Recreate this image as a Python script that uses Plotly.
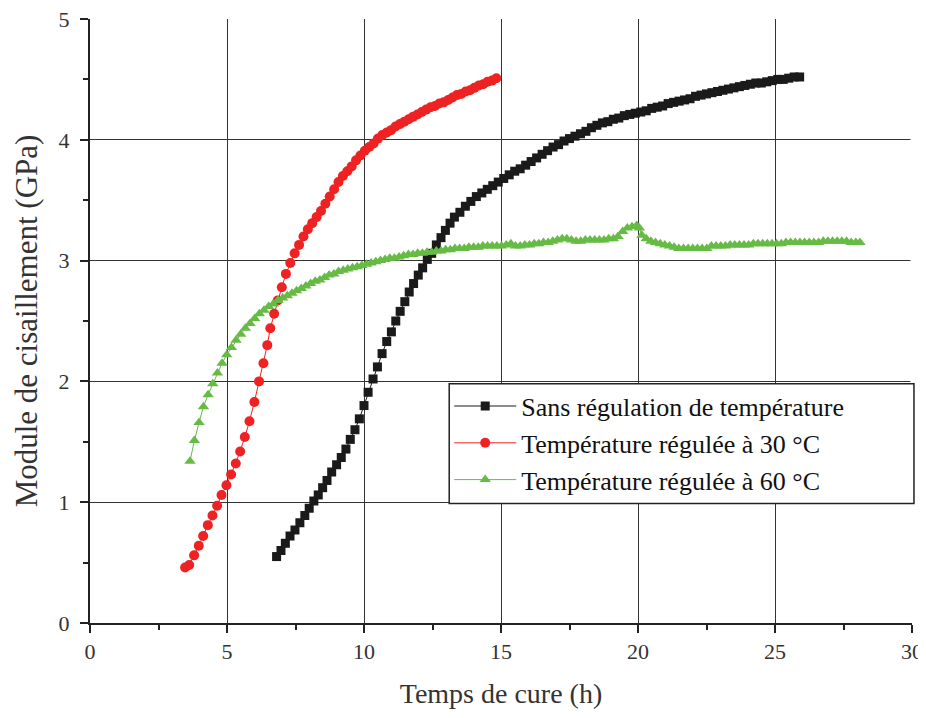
import plotly.graph_objects as go

# --- Data: Sans régulation de température (black squares)
x_sans = [6.81, 6.97, 7.13, 7.30, 7.48, 7.66, 7.84, 8.00, 8.17, 8.33, 8.49, 8.65, 8.82, 9.00, 9.17,
          9.34, 9.50, 9.67, 9.83, 10.00, 10.15, 10.33, 10.49, 10.66, 10.83, 11.00, 11.16, 11.32,
          11.49, 11.65, 11.81, 11.98, 12.14, 12.31, 12.47, 12.64, 12.81, 12.97, 13.14, 13.30,
          13.50, 13.70, 13.90, 14.10, 14.30, 14.50, 14.70, 14.90, 15.10, 15.30, 15.50, 15.70,
          15.90, 16.10, 16.30, 16.50, 16.70, 16.90, 17.10, 17.30, 17.50, 17.70, 17.90, 18.10,
          18.30, 18.50, 18.70, 18.90, 19.10, 19.30, 19.50, 19.70, 19.90, 20.10, 20.30, 20.50,
          20.70, 20.90, 21.10, 21.30, 21.50, 21.70, 21.90, 22.10, 22.30, 22.50, 22.70, 22.90,
          23.10, 23.30, 23.50, 23.70, 23.90, 24.10, 24.30, 24.50, 24.70, 24.90, 25.10, 25.30,
          25.50, 25.70, 25.90]
y_sans = [0.55, 0.60, 0.66, 0.72, 0.77, 0.83, 0.89, 0.95, 1.01, 1.06, 1.12, 1.18, 1.25, 1.31, 1.37,
          1.44, 1.52, 1.60, 1.69, 1.80, 1.91, 2.02, 2.12, 2.23, 2.33, 2.41, 2.50, 2.58,
          2.66, 2.74, 2.81, 2.88, 2.94, 3.01, 3.06, 3.13, 3.19, 3.25, 3.31, 3.36,
          3.40, 3.45, 3.49, 3.53, 3.56, 3.59, 3.62, 3.65, 3.68, 3.71, 3.74, 3.76,
          3.79, 3.82, 3.85, 3.88, 3.91, 3.94, 3.96, 3.99, 4.01, 4.03, 4.05, 4.07,
          4.10, 4.12, 4.14, 4.15, 4.17, 4.18, 4.20, 4.21, 4.22, 4.23, 4.24, 4.26,
          4.27, 4.28, 4.30, 4.31, 4.32, 4.33, 4.34, 4.36, 4.37, 4.38, 4.39, 4.40,
          4.41, 4.42, 4.43, 4.44, 4.45, 4.46, 4.47, 4.47, 4.48, 4.49, 4.50, 4.50,
          4.51, 4.52, 4.52]

# --- Data: Température régulée à 30 °C (red circles)
x_30 = [3.47, 3.62, 3.80, 3.97, 4.13, 4.30, 4.47, 4.64, 4.80, 4.98, 5.15, 5.32, 5.48, 5.65, 5.82,
        6.00, 6.17, 6.33, 6.47, 6.58, 6.72, 6.85, 7.00, 7.15, 7.31, 7.47, 7.63, 7.79, 7.95,
        8.11, 8.27, 8.43, 8.59, 8.75, 8.91, 9.07, 9.23, 9.39, 9.55, 9.71, 9.87, 10.03, 10.19,
        10.35, 10.51, 10.67, 10.83, 10.99, 11.15, 11.31, 11.47, 11.63, 11.79, 11.95, 12.11,
        12.27, 12.43, 12.59, 12.75, 12.91, 13.07, 13.23, 13.39, 13.55, 13.71, 13.87, 14.03,
        14.19, 14.35, 14.51, 14.67, 14.83]
y_30 = [0.46, 0.48, 0.56, 0.64, 0.72, 0.81, 0.89, 0.97, 1.06, 1.14, 1.23, 1.32, 1.42, 1.54, 1.67,
        1.83, 2.00, 2.15, 2.30, 2.44, 2.56, 2.67, 2.78, 2.89, 2.98, 3.06, 3.13, 3.20, 3.26,
        3.31, 3.36, 3.41, 3.47, 3.53, 3.59, 3.65, 3.70, 3.74, 3.78, 3.83, 3.87, 3.91, 3.94,
        3.97, 4.01, 4.04, 4.06, 4.08, 4.11, 4.13, 4.15, 4.17, 4.19, 4.21, 4.23,
        4.25, 4.27, 4.28, 4.30, 4.31, 4.33, 4.35, 4.37, 4.38, 4.40, 4.41, 4.43,
        4.45, 4.46, 4.48, 4.49, 4.51]

# --- Data: Température régulée à 60 °C (green triangles)
x_60 = [3.65, 3.81, 3.98, 4.14, 4.31, 4.48, 4.65, 4.82, 4.99, 5.16, 5.33, 5.50, 5.67, 5.84, 6.01,
        6.18, 6.35, 6.52, 6.69, 6.86, 7.03, 7.20, 7.37, 7.54, 7.71, 7.88, 8.05, 8.22, 8.39,
        8.56, 8.73, 8.90, 9.07, 9.24, 9.41, 9.58, 9.75, 9.92, 10.09, 10.26, 10.43, 10.60,
        10.77, 10.94, 11.11, 11.28, 11.45, 11.62, 11.79, 11.96, 12.13, 12.30, 12.47, 12.64,
        12.81, 12.98, 13.15, 13.32, 13.49, 13.66, 13.83, 14.00, 14.17, 14.34, 14.51, 14.68,
        14.85, 15.02, 15.19, 15.36, 15.53, 15.70, 15.87, 16.04, 16.21, 16.38, 16.55, 16.72,
        16.89, 17.06, 17.23, 17.40, 17.57, 17.74, 17.91, 18.08, 18.25, 18.42, 18.59, 18.76,
        18.93, 19.10, 19.27, 19.44, 19.61, 19.78, 19.95, 20.05, 20.14, 20.30, 20.47, 20.64,
        20.81, 20.98, 21.15, 21.32, 21.49, 21.66, 21.83, 22.00, 22.17, 22.34, 22.51, 22.68,
        22.85, 23.02, 23.19, 23.36, 23.53, 23.70, 23.87, 24.04, 24.21, 24.38, 24.55, 24.72,
        24.89, 25.06, 25.23, 25.40, 25.57, 25.74, 25.91, 26.08, 26.25, 26.42, 26.59, 26.76,
        26.93, 27.10, 27.27, 27.44, 27.61, 27.78, 27.95, 28.10]
y_60 = [1.34, 1.51, 1.66, 1.79, 1.89, 1.98, 2.07, 2.15, 2.22, 2.28, 2.34, 2.39, 2.44, 2.48, 2.52,
        2.56, 2.59, 2.62, 2.64, 2.67, 2.69, 2.71, 2.73, 2.75, 2.77, 2.79, 2.81, 2.83, 2.84,
        2.86, 2.88, 2.89, 2.91, 2.92, 2.93, 2.94, 2.95, 2.96, 2.97, 2.98, 2.99, 3.00,
        3.01, 3.02, 3.02, 3.03, 3.04, 3.05, 3.05, 3.06, 3.06, 3.07, 3.07, 3.08,
        3.08, 3.09, 3.09, 3.10, 3.10, 3.10, 3.11, 3.11, 3.11, 3.12, 3.12, 3.12,
        3.12, 3.12, 3.13, 3.14, 3.12, 3.12, 3.13, 3.13, 3.14, 3.14, 3.15, 3.15,
        3.16, 3.17, 3.18, 3.18, 3.17, 3.16, 3.16, 3.17, 3.17, 3.17, 3.17, 3.17,
        3.18, 3.18, 3.20, 3.24, 3.27, 3.28, 3.29, 3.27, 3.21, 3.18, 3.16, 3.15,
        3.14, 3.13, 3.12, 3.11, 3.10, 3.10, 3.10, 3.10, 3.10, 3.10, 3.10, 3.12,
        3.12, 3.12, 3.12, 3.13, 3.13, 3.13, 3.13, 3.13, 3.14, 3.14, 3.14, 3.14,
        3.14, 3.14, 3.14, 3.15, 3.15, 3.15, 3.15, 3.15, 3.15, 3.15, 3.15, 3.16,
        3.16, 3.16, 3.16, 3.16, 3.16, 3.15, 3.15, 3.15]

names = ["Sans régulation de température",
         "Température régulée à 30 °C",
         "Température régulée à 60 °C"]

FONT = "Liberation Serif, DejaVu Serif, serif"

fig = go.Figure()
fig.add_trace(go.Scatter(x=x_sans, y=y_sans, mode="lines+markers", name=names[0],
                         line=dict(color="#1a1a1a", width=1),
                         marker=dict(symbol="square", size=9, color="#1a1a1a")))
fig.add_trace(go.Scatter(x=x_30, y=y_30, mode="lines+markers", name=names[1],
                         line=dict(color="#ee2222", width=1),
                         marker=dict(symbol="circle", size=10, color="#ee2222")))
fig.add_trace(go.Scatter(x=x_60, y=y_60, mode="lines+markers", name=names[2],
                         line=dict(color="#66bb44", width=1),
                         marker=dict(symbol="triangle-up", size=10, color="#66bb44")))

fig.update_layout(
    width=918, height=702,
    margin=dict(l=82, r=14, t=11, b=87),
    paper_bgcolor="white", plot_bgcolor="white",
    font=dict(family=FONT, color="#222", size=22),
    legend=dict(x=0.437, y=0.398, xanchor="left", yanchor="top",
                bgcolor="rgba(0,0,0,0)", borderwidth=0,
                font=dict(family=FONT, size=26, color="#111"),
                tracegroupgap=0, itemwidth=62),
    showlegend=True,
)
fig.update_xaxes(
    range=[0, 30], dtick=5, tick0=0, automargin=False, ticklabeloverflow="allow",
    showline=True, linecolor="#222", linewidth=2, mirror=False,
    ticks="outside", ticklen=8, tickwidth=2, tickcolor="#222",
    minor=dict(dtick=2.5, ticks="outside", ticklen=5, tickwidth=2, tickcolor="#222", showgrid=False),
    showgrid=True, gridcolor="#333", gridwidth=1,
    zeroline=False,
    tickfont=dict(family=FONT, size=22, color="#333"),
    title=dict(text="Temps de cure (h)", font=dict(family=FONT, size=28, color="#333"), standoff=20),
)
fig.update_yaxes(
    range=[0, 5], dtick=1, tick0=0, automargin=False, ticklabeloverflow="allow",
    showline=True, linecolor="#222", linewidth=2,
    ticks="outside", ticklen=8, tickwidth=2, tickcolor="#222", ticklabelstandoff=6,
    minor=dict(dtick=0.5, ticks="outside", ticklen=5, tickwidth=2, tickcolor="#222", showgrid=False),
    showgrid=True, gridcolor="#333", gridwidth=1,
    zeroline=False,
    tickfont=dict(family=FONT, size=22, color="#333"),
    title=dict(text="Module de cisaillement (GPa)", font=dict(family=FONT, size=31, color="#333"), standoff=12),
)

# hide the grid line that falls on the right edge (x = 30), as in the original figure
fig.add_shape(type="line", xref="paper", yref="paper", x0=1, x1=1, y0=0, y1=1,
              line=dict(color="white", width=3), layer="above")
# legend frame (wider than the legend entries, as in the original)
fig.add_shape(type="rect", xref="paper", yref="paper", x0=0.437, x1=1.0024, y0=0.198, y1=0.396,
              line=dict(color="#222", width=1.5), fillcolor="white", layer="above")

fig.write_html("out.html")
